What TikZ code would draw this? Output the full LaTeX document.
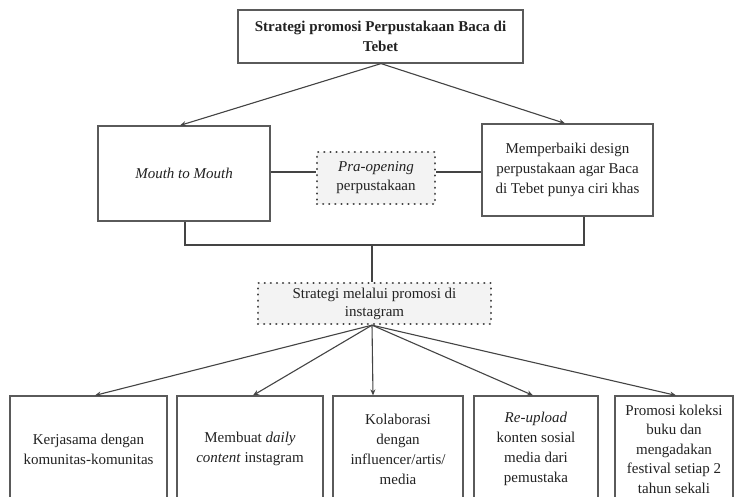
\documentclass[tikz,border=0pt]{standalone}
\usepackage{fontspec}
\setmainfont{Liberation Serif}
\usetikzlibrary{arrows.meta}
\definecolor{boxgray}{HTML}{5A5A5A}
\definecolor{linegray}{HTML}{444444}
\definecolor{dotgray}{HTML}{444444}
\definecolor{fillgray}{HTML}{F3F3F3}
\definecolor{txt}{HTML}{222222}
\begin{document}
\begin{tikzpicture}[x=1pt,y=-1pt,
  box/.style={draw=boxgray,line width=1.2pt,align=center,inner sep=0pt,text=txt,
    font=\fontsize{15}{20}\selectfont},
  dotbox/.style={box,draw=dotgray,fill=fillgray,dash pattern=on 0.1pt off 6pt,line cap=round,line width=2.3pt},
  conn/.style={draw=linegray,line width=1.1pt},
  arr/.style={conn,-{Stealth[length=6pt,width=5pt]}}]
\clip (0,0) rectangle (735,497);
\fill[white] (0,0) rectangle (735,497);
% nodes
\node[box,minimum width=285,minimum height=53] (top) at (380.5,36.5)
  {\textbf{Strategi promosi Perpustakaan Baca di}\\\textbf{Tebet}};
\node[box,minimum width=172,minimum height=95] (mouth) at (184,173.5) {\textit{Mouth to Mouth}};
\node[dotbox,minimum width=118,minimum height=52,font=\fontsize{15}{19}\selectfont] (pra) at (376,178)
  {\textit{Pra-opening}\\perpustakaan};
\node[box,minimum width=171,minimum height=92] (right) at (567.5,170)
  {Memperbaiki design\\perpustakaan agar Baca\\di Tebet punya ciri khas};
\node[dotbox,minimum width=233,minimum height=41,font=\fontsize{15}{18}\selectfont] (insta) at (374.5,303.5)
  {Strategi melalui promosi di\\instagram};
\node[box,minimum width=157,minimum height=106] (b1) at (88.5,449)
  {Kerjasama dengan\\komunitas-komunitas};
\node[box,minimum width=146,minimum height=106] (b2) at (250,449)
  {Membuat \textit{daily}\\\textit{content} instagram};
\node[box,minimum width=130,minimum height=106] (b3) at (398,449)
  {Kolaborasi\\dengan\\influencer/artis/\\media};
\node[box,minimum width=124,minimum height=106] (b4) at (536,449)
  {\textit{Re-upload}\\konten sosial\\media dari\\pemustaka};
\node[box,minimum width=118,minimum height=106,font=\fontsize{15}{19.5}\selectfont] (b5) at (674,449)
  {Promosi koleksi\\buku dan\\mengadakan\\festival setiap 2\\tahun sekali};
% helper coordinates
\coordinate (apex) at (381,63);
\coordinate (tl) at (180,0);
\coordinate (tr) at (565,0);
\coordinate (l1) at (0,172);
\coordinate (jl) at (185,245);
\coordinate (jm) at (372,245);
\coordinate (jr) at (584,245);
\coordinate (src) at (372,0);
\coordinate (a1) at (95,0);
\coordinate (a2) at (253,0);
\coordinate (a3) at (373,0);
\coordinate (a4) at (533,0);
\coordinate (a5) at (676,0);
% connectors
\draw[arr] (top.south -| apex) -- (mouth.north -| tl);
\draw[arr] (top.south -| apex) -- (right.north -| tr);
\draw[conn] (mouth.east |- l1) -- (pra.west |- l1);
\draw[conn] (pra.east |- l1) -- (right.west |- l1);
\draw[conn] (mouth.south -| jl) -- (jl) -- (jr) -- (right.south -| jr);
\draw[conn] (jm) -- (insta.north -| jm);
\draw[arr] (insta.south -| src) -- (b1.north -| a1);
\draw[arr] (insta.south -| src) -- (b2.north -| a2);
\draw[arr] (insta.south -| src) -- (b3.north -| a3);
\draw[arr] (insta.south -| src) -- (b4.north -| a4);
\draw[arr] (insta.south -| src) -- (b5.north -| a5);
\end{tikzpicture}
\end{document}
